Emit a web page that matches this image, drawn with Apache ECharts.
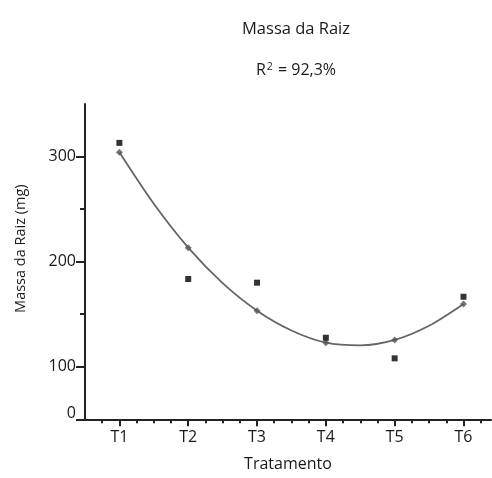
<!DOCTYPE html>
<html>
<head>
<meta charset="utf-8">
<script src="https://cdn.jsdelivr.net/npm/echarts@6/dist/echarts.min.js"></script>
<style>
html,body{margin:0;padding:0;background:#fff;}
#c{width:492px;height:478px;}
</style>
</head>
<body>
<div id="c"></div>
<script>
var categories = ['T1','T2','T3','T4','T5','T6'];
var catPositions = [1, 2, 3, 4, 5, 6];
var observed = [313, 183.5, 180, 127.6, 108, 166.6];
var fitted = [304, 213.3, 153.3, 122.9, 125.5, 159.7];
var curveX = [1, 1.5, 2, 2.5, 3, 3.5, 4, 4.5, 5, 5.5, 6];
var curveY = [304, 255, 213.3, 179.5, 153.3, 134.5, 122.9, 120.3, 125.5, 139, 159.7];
var yTickLabels = [50, 100, 200, 300];
var yMinorTicks = [150, 250];

var minorX = [];
for (var v = 0.75; v <= 6.26; v += 0.25) minorX.push(Math.round(v * 100) / 100);

var font = 'Open Sans';
var ink = '#1a1a1a';
var chart = echarts.init(document.getElementById('c'), null, {renderer: 'canvas'});
chart.setOption({
  animation: false,
  title: [
    {text: 'Massa da Raiz', left: 291, top: 16, textAlign: 'center',
     textStyle: {fontFamily: font, fontSize: 16.5, fontWeight: 'normal', color: ink}},
    {text: '{a|R}{s|2}{a| = 92,3%}', left: 291, top: 57, textAlign: 'center',
     textStyle: {fontFamily: font, fontSize: 16, fontWeight: 'normal', color: ink,
       rich: {a: {fontFamily: font, fontSize: 16, color: ink},
              s: {fontFamily: font, fontSize: 10.5, color: ink, padding: [0, 1, 6, 1]}}}}
  ],
  grid: {left: 85, top: 104, bottom: 58.7, right: 1, containLabel: false},
  xAxis: [
    {type: 'value', min: 0.5, max: 6.4,
     name: 'Tratamento', nameLocation: 'middle', nameGap: 37,
     nameTextStyle: {fontFamily: font, fontSize: 16, color: ink},
     axisLine: {show: true, onZero: false, lineStyle: {color: '#222', width: 2}},
     axisTick: {show: true, customValues: catPositions, length: 7, lineStyle: {color: '#222', width: 2}},
     axisLabel: {show: true, customValues: catPositions, margin: 10,
       fontFamily: font, fontSize: 16, color: ink,
       formatter: function (v) { return categories[Math.round(v) - 1]; }},
     splitLine: {show: false}},
    {type: 'value', min: 0.5, max: 6.4, position: 'bottom',
     axisLine: {show: false},
     axisTick: {show: true, customValues: minorX, length: 4, lineStyle: {color: '#222', width: 2}},
     axisLabel: {show: false}, splitLine: {show: false}}
  ],
  yAxis: [
    {type: 'value', min: 50, max: 350,
     name: 'Massa da Raiz (mg)', nameLocation: 'middle', nameGap: 57, nameRotate: 90,
     nameTextStyle: {fontFamily: font, fontSize: 14.5, color: ink, padding: [0, 0, 0, 26]},
     axisLine: {show: true, onZero: false, lineStyle: {color: '#222', width: 2}},
     axisTick: {show: true, customValues: yTickLabels, length: 9, lineStyle: {color: '#222', width: 2}},
     axisLabel: {show: true, customValues: yTickLabels, margin: 9,
       fontFamily: font, fontSize: 16, color: ink,
       formatter: function (v) { return v === 50 ? '{z|0}' : String(v); },
       rich: {z: {fontFamily: font, fontSize: 16, color: ink, padding: [0, 0, 12, 0]}}},
     splitLine: {show: false}},
    {type: 'value', min: 50, max: 350, position: 'left',
     axisLine: {show: false},
     axisTick: {show: true, customValues: yMinorTicks, length: 5, lineStyle: {color: '#222', width: 2}},
     axisLabel: {show: false}, splitLine: {show: false}}
  ],
  series: [
    {type: 'line', xAxisIndex: 0, yAxisIndex: 0, smooth: 0.3, showSymbol: false,
     lineStyle: {color: '#666', width: 1.8},
     data: curveX.map(function (x, i) { return [x, curveY[i]]; }), z: 2},
    {type: 'scatter', xAxisIndex: 0, yAxisIndex: 0, symbol: 'diamond', symbolSize: 7,
     itemStyle: {color: '#555'},
     data: catPositions.map(function (x, i) { return [x, fitted[i]]; }), z: 3},
    {type: 'scatter', xAxisIndex: 0, yAxisIndex: 0, symbol: 'rect', symbolSize: 6,
     itemStyle: {color: '#000'},
     data: catPositions.map(function (x, i) { return [x, observed[i]]; }), z: 4}
  ]
});
</script>
</body>
</html>
